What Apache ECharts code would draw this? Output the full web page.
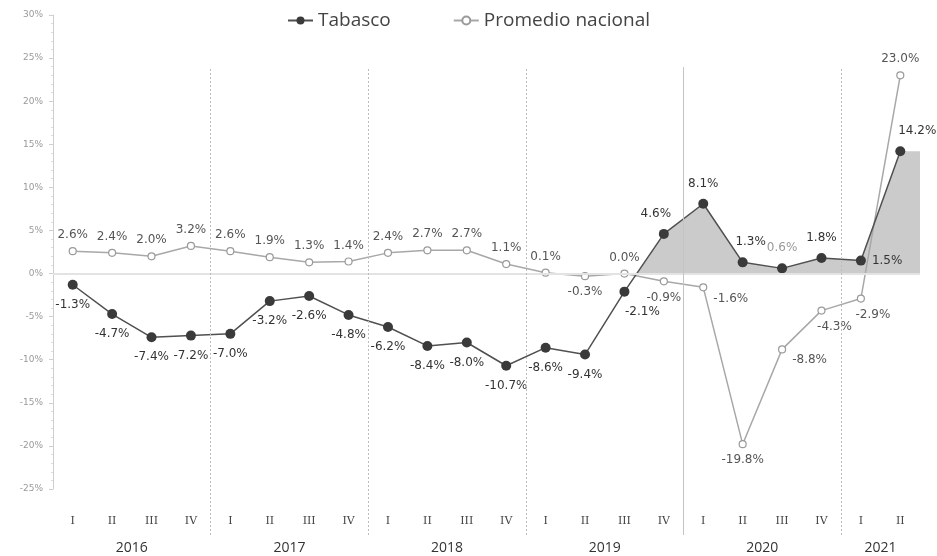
<!DOCTYPE html>
<html><head><meta charset="utf-8">
<script src="https://cdn.jsdelivr.net/npm/echarts@6/dist/echarts.min.js"></script>
<style>html,body{margin:0;padding:0;background:#fff}#c{width:937px;height:556px}</style>
</head><body><div id="c"></div>
<script>
// ---- data ----
const quarters = ['I','II','III','IV','I','II','III','IV','I','II','III','IV','I','II','III','IV','I','II','III','IV','I','II'];
const years = ['2016','2017','2018','2019','2020','2021'];
const quartersPerYear = [4,4,4,4,4,2];
const tabasco = [-1.3,-4.7,-7.4,-7.2,-7.0,-3.2,-2.6,-4.8,-6.2,-8.4,-8.0,-10.7,-8.6,-9.4,-2.1,4.6,8.1,1.3,0.6,1.8,1.5,14.2];
const promedio = [2.6,2.4,2.0,3.2,2.6,1.9,1.3,1.4,2.4,2.7,2.7,1.1,0.1,-0.3,0.0,-0.9,-1.6,-19.8,-8.8,-4.3,-2.9,23.0];
const yMin = -25, yMax = 30, yStep = 5;

// ---- styling maps (label placement) ----
const tabLabelStyle = {
  14: {position:'bottom', offset:[18,0]},
  15: {position:'top', offset:[-8,0]},
  16: {position:'top'},
  17: {position:'top', offset:[8,0]},
  18: {position:'top', color:'#9a9a9a'},
  19: {position:'top'},
  20: {position:'right', distance:6},
  21: {position:'top', offset:[17,0]}
};
const promLabelStyle = {
  13: {position:'bottom'},
  15: {position:'bottom'},
  16: {position:'right', offset:[0,12]},
  17: {position:'bottom'},
  18: {position:'right', offset:[0,10]},
  19: {position:'bottom', offset:[13,0]},
  20: {position:'bottom', offset:[12,0]}
};

// derived helpers
const nCat = quarters.length;
const yearCenters = {};
const boundaries = [];
let acc = 0;
quartersPerYear.forEach((n, i) => {
  yearCenters[acc + n / 2] = years[i];
  acc += n;
  if (i < quartersPerYear.length - 1) boundaries.push(acc);
});
const solidBoundary = 16;

const fmt = p => (typeof p.value === 'number' ? p.value : p.value[1]).toFixed(1) + '%';
const labelFont = 'DejaVu Sans';

const tabData = tabasco.map((v, i) => ({
  value: v,
  label: Object.assign({position: 'bottom', distance: 9}, tabLabelStyle[i] || {})
}));
const promData = promedio.map((v, i) => ({
  value: v,
  label: Object.assign({position: 'top', distance: 6}, promLabelStyle[i] || {})
}));
const areaData = tabasco.map((v, i) => [i + 0.5, v]);
areaData.push([nCat, tabasco[nCat - 1]]);

const dividerLines = boundaries.map(b => [
  {coord: [b, 0], lineStyle: {type: b === solidBoundary ? 'solid' : [2, 2], color: b === solidBoundary ? '#c4c4c4' : '#bdbdbd', width: 1}},
  {coord: [b, 1]}
]);
const zeroLine = [
  {coord: [0, 0], lineStyle: {type: 'solid', color: '#e3e3e3', width: 2}},
  {coord: [nCat, 0]}
];

const chart = echarts.init(document.getElementById('c'), null, {renderer: 'canvas'});
chart.setOption({
  animation: false,
  backgroundColor: '#fff',
  textStyle: {fontFamily: labelFont},
  legend: {
    top: 6,
    left: 'center',
    itemWidth: 25,
    itemHeight: 10,
    itemGap: 62,
    textStyle: {fontFamily: 'Open Sans', fontSize: 19, color: '#444'},
    data: ['Tabasco', 'Promedio nacional']
  },
  grid: [
    {left: 53, right: 17, top: 15, bottom: 67, containLabel: false},
    {left: 53, right: 17, top: 67, bottom: 21, containLabel: false}
  ],
  xAxis: [
    {
      type: 'category',
      gridIndex: 0,
      data: quarters,
      boundaryGap: true,
      axisLine: {show: false, onZero: false},
      axisTick: {show: false},
      axisLabel: {interval: 0, margin: 27, fontFamily: 'DejaVu Serif', fontSize: 11, color: '#444'}
    },
    {
      type: 'value',
      gridIndex: 0,
      min: 0,
      max: nCat,
      interval: 1,
      position: 'bottom',
      axisLine: {show: false, onZero: false},
      axisTick: {show: false},
      splitLine: {show: false},
      axisLabel: {
        margin: 52,
        fontFamily: 'Open Sans',
        fontSize: 14,
        color: '#333',
        showMinLabel: true,
        showMaxLabel: true,
        hideOverlap: false,
        formatter: v => yearCenters[v] || ''
      }
    },
    {
      type: 'value',
      gridIndex: 1,
      min: 0,
      max: nCat,
      show: false
    }
  ],
  yAxis: [
    {
      type: 'value',
      gridIndex: 0,
      min: yMin,
      max: yMax,
      interval: yStep,
      axisLine: {show: true, lineStyle: {color: '#cfcfcf'}},
      axisTick: {show: true, length: 4, lineStyle: {color: '#cfcfcf'}},
      minorTick: {show: true, splitNumber: 5, length: 2, lineStyle: {color: '#dddddd'}},
      splitLine: {show: false},
      axisLabel: {formatter: '{value}%', fontSize: 9, color: '#9a9a9a', margin: 10, fontFamily: labelFont}
    },
    {
      type: 'value',
      gridIndex: 1,
      min: 0,
      max: 1,
      show: false
    }
  ],
  visualMap: {
    show: false,
    type: 'piecewise',
    seriesIndex: 0,
    dimension: 1,
    pieces: [
      {gte: -100, lt: 0, color: 'rgba(255,255,255,0)'},
      {gte: 0, lte: 100, color: '#cbcbcb'}
    ],
    outOfRange: {color: 'rgba(255,255,255,0)'}
  },
  series: [
    {
      name: 'area',
      type: 'line',
      xAxisIndex: 1,
      yAxisIndex: 0,
      data: areaData,
      symbol: 'none',
      silent: true,
      z: 1,
      lineStyle: {width: 0, opacity: 0},
      areaStyle: {opacity: 1},
      markLine: {
        silent: true,
        symbol: ['none', 'none'],
        label: {show: false},
        animation: false,
        data: [zeroLine]
      }
    },
    {
      name: 'dividers',
      type: 'line',
      xAxisIndex: 2,
      yAxisIndex: 1,
      data: [[0, 0]],
      symbol: 'none',
      silent: true,
      lineStyle: {opacity: 0},
      z: 2,
      markLine: {
        silent: true,
        symbol: ['none', 'none'],
        label: {show: false},
        animation: false,
        data: dividerLines
      }
    },
    {
      name: 'Promedio nacional',
      type: 'line',
      data: promData,
      z: 3,
      symbol: 'circle',
      symbolSize: 7,
      lineStyle: {color: '#a8a8a8', width: 1.5},
      itemStyle: {color: '#ffffff', borderColor: '#9a9a9a', borderWidth: 1.2},
      label: {show: true, formatter: fmt, fontSize: 12, color: '#555', fontFamily: labelFont}
    },
    {
      name: 'Tabasco',
      type: 'line',
      data: tabData,
      z: 4,
      symbol: 'circle',
      symbolSize: 10,
      lineStyle: {color: '#505050', width: 1.5},
      itemStyle: {color: '#3a3a3a'},
      label: {show: true, formatter: fmt, fontSize: 12, color: '#333', fontFamily: labelFont}
    }
  ]
});
</script>
</body></html>
